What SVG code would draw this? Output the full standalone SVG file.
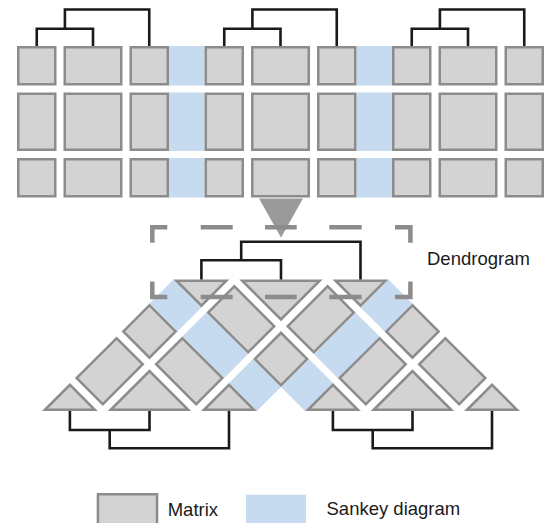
<svg xmlns="http://www.w3.org/2000/svg" width="544" height="523" viewBox="0 0 544 523">
<style>
.cell{fill:#d3d3d3;stroke:#8c8c8c;stroke-width:2.5}
.sankey{fill:#c6dbef}
.den{fill:none;stroke:#1a1a1a;stroke-width:2.6}
.dash{fill:none;stroke:#8c8c8c;stroke-width:4.5}
.arrow{fill:#9a9a9a}
.label{font-family:"Liberation Sans",Arial,sans-serif;font-size:18.5px;fill:#1a1a1a}
</style>
<defs>
<g id="tri3">
<polygon class="cell" points="3.018,1.25 38.25,1.25 38.25,36.482"/>
<polygon class="cell" points="49.518,47.75 104.25,47.75 104.25,102.482"/>
<polygon class="cell" points="115.518,113.75 150.75,113.75 150.75,148.982"/>
<rect class="cell" x="47.75" y="1.25" width="56.5" height="37"/>
<rect class="cell" x="113.75" y="1.25" width="37" height="37"/>
<rect class="cell" x="113.75" y="47.75" width="37" height="56.5"/>
</g>
<g id="grid3">
<rect class="cell" x="1.25" y="47.25" width="37" height="37"/>
<rect class="cell" x="47.75" y="47.25" width="56.5" height="37"/>
<rect class="cell" x="113.75" y="47.25" width="37" height="37"/>
<rect class="cell" x="1.25" y="93.75" width="37" height="56"/>
<rect class="cell" x="47.75" y="93.75" width="56.5" height="56"/>
<rect class="cell" x="113.75" y="93.75" width="37" height="56"/>
<rect class="cell" x="1.25" y="159.25" width="37" height="37"/>
<rect class="cell" x="47.75" y="159.25" width="56.5" height="37"/>
<rect class="cell" x="113.75" y="159.25" width="37" height="37"/>
</g>
<g id="sank3">
<rect class="sankey" x="0" y="46" width="35.5" height="39.5"/>
<rect class="sankey" x="0" y="92.5" width="35.5" height="58.5"/>
<rect class="sankey" x="0" y="158" width="35.5" height="39.5"/>
</g>
</defs>

<!-- top row: three matrices with sankey bands -->
<g id="sankey-ab" transform="translate(169,0)"><use href="#sank3"/></g>
<g id="sankey-bc" transform="translate(356.5,0)"><use href="#sank3"/></g>
<g id="matrix-a" transform="translate(17,0)"><use href="#grid3"/></g>
<g id="matrix-b" transform="translate(204.5,0)"><use href="#grid3"/></g>
<g id="matrix-c" transform="translate(392,0)"><use href="#grid3"/></g>

<g id="arrow"><polygon class="arrow" points="259,198.5 303,198.5 281,237.5"/></g>

<!-- bottom: rotated matrices -->
<g id="sankey-rotated" transform="translate(173.5,279.5) rotate(45) scale(1,-1)">
<rect class="sankey" x="0" y="-34" width="39.5" height="34"/>
<rect class="sankey" x="46.5" y="-34" width="59" height="34"/>
<rect class="sankey" x="112.5" y="-34" width="39.5" height="34"/>
<rect class="sankey" x="152" y="0" width="34" height="39.5"/>
<rect class="sankey" x="152" y="46.5" width="34" height="59"/>
<rect class="sankey" x="152" y="112.5" width="34" height="39.5"/>
</g>
<g id="tri-top" transform="translate(173.5,279.5) rotate(45) scale(1,-1)"><use href="#tri3"/></g>
<g id="tri-left" transform="translate(42,411) rotate(-45)"><use href="#tri3"/></g>
<g id="tri-right" transform="translate(305,411) rotate(-45)"><use href="#tri3"/></g>

<g id="connectors">
<path class="den" d="M36.75,46V28.7H93V46M64.9,28.7V9.5H149.25V46"/>
<path class="den" d="M224.25,46V28.7H280.5V46M252.4,28.7V9.5H336.75V46"/>
<path class="den" d="M411.75,46V28.7H468V46M439.9,28.7V9.5H524.25V46"/>
<path class="den" d="M201.4,279.5V260.3H281V279.5M241.2,260.3V241.7H360.5V279.5"/>
<path class="den" d="M69.9,411V430H149.5V411M109.7,430V448.3H229V411"/>
<path class="den" d="M332.9,411V430H412.5V411M372.7,430V448.3H492V411"/>
</g>

<g id="dendrogram-box">
<path class="dash" d="M152.3,242.7V227.3H167.3M395,227.3H410.4V242.7M152.3,281.5V297H167.3M395,297H410.4V281.5"/>
<path class="dash" d="M200.7,227.3H232.7M265,227.3H296.7M329.3,227.3H361.7M200.7,297H232.7M265,297H296.7M329.3,297H361.7"/>
</g>
<text class="label" x="427" y="265">Dendrogram</text>

<g id="legend">
<rect class="cell" x="97.95" y="494.25" width="59.1" height="40"/>
<text class="label" x="167.7" y="515.7">Matrix</text>
<rect class="sankey" x="246" y="494.7" width="60" height="40"/>
<text class="label" x="326.5" y="515.3">Sankey diagram</text>
</g>
</svg>
